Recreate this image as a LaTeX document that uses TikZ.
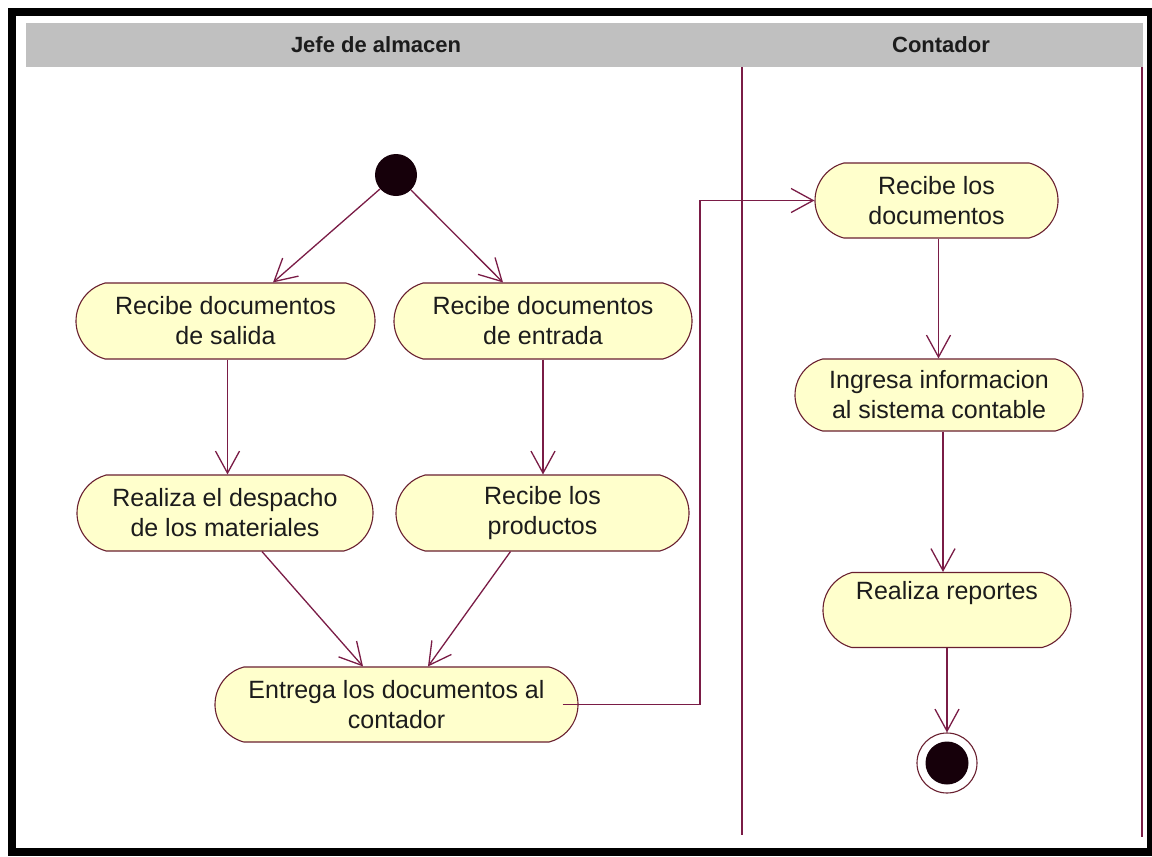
\documentclass[tikz,border=0pt]{standalone}
\usepackage{fontspec}
\setmainfont{Liberation Sans}
\usetikzlibrary{shapes.misc,arrows.meta}

\definecolor{wire}{RGB}{122,28,70}
\definecolor{actfill}{RGB}{255,255,204}
\definecolor{actedge}{RGB}{105,32,48}
\definecolor{lanehead}{RGB}{192,192,192}
\definecolor{inktext}{RGB}{28,28,28}
\definecolor{dot}{RGB}{22,0,10}

\begin{document}
\begin{tikzpicture}[x=1pt,y=-1pt,
  activity/.style={rounded rectangle, rounded rectangle arc length=150,
    draw=actedge, line width=1.1pt, fill=actfill, text=inktext,
    align=center, inner sep=0pt, font=\fontsize{25}{30}\selectfont},
  flow/.style={draw=wire, line width=1.3pt,
    -{Straight Barb[length=22pt,width=24pt]}},
  lane/.style={draw=wire, line width=1.8pt},
  lanetitle/.style={text=inktext, inner sep=0pt,
    font=\bfseries\fontsize{22}{26}\selectfont}]

\useasboundingbox (0,0) rectangle (1152,857);
\fill[white] (0,0) rectangle (1152,857);

% swimlane header and separators
\fill[lanehead] (26,23) rectangle (1143,67);
\node[lanetitle] (hjefe) at (376,45) {Jefe de almacen};
\node[lanetitle] (hcont) at (941,45) {Contador};
\draw[lane] (742,67) -- (742,835);
\draw[lane] (1142,67) -- (1142,837);

% outer frame
\draw[line width=8pt] (12,12) rectangle (1151,852);

% start / end states
\node[circle, fill=dot, minimum size=42pt, inner sep=0pt] (start) at (396,175) {};
\node[circle, draw=actedge, line width=1.1pt, minimum size=60pt, inner sep=0pt] (stop) at (947,763) {};
\node[circle, fill=dot, minimum size=43pt, inner sep=0pt] (stopdot) at (stop) {};

% activities
\node[activity, minimum width=299pt, minimum height=76pt] (a1) at (225.5,321) {Recibe documentos\\de salida};
\node[activity, minimum width=298pt, minimum height=76pt] (a2) at (543,321) {Recibe documentos\\de entrada};
\node[activity, minimum width=296pt, minimum height=76pt] (a3) at (225,513) {Realiza el despacho\\de los materiales};
\node[activity, minimum width=293pt, minimum height=76pt] (a4) at (542.5,513) {Recibe los\\productos};
\node[activity, minimum width=363pt, minimum height=75pt] (a5) at (396.5,704.5) {Entrega los documentos al\\contador};
\node[activity, minimum width=243pt, minimum height=75pt] (a6) at (936.5,200.5) {Recibe los\\documentos};
\node[activity, minimum width=288pt, minimum height=72pt] (a7) at (939,395) {Ingresa informacion\\al sistema contable};
\node[activity, minimum width=248pt, minimum height=75pt] (a8) at (947,610) {Realiza reportes\\\strut};

\coordinate (jog) at (700,0);

% transitions
\draw[flow] (start) -- ([xshift=47.5pt]a1.north);
\draw[flow] (start) -- ([xshift=-40pt]a2.north);
\draw[flow] ([xshift=2pt]a1.south) -- ([xshift=2pt]a1.south |- a3.north);
\draw[flow] (a2.south) -- (a2.south |- a4.north);
\draw[flow] ([xshift=37pt]a3.south) -- ([xshift=-33.5pt]a5.north);
\draw[flow] ([xshift=-32pt]a4.south) -- ([xshift=31.5pt]a5.north);
\draw[flow] ([xshift=-16pt]a5.east) -| (jog |- a6.west) -- (a6.west);
\draw[flow] ([xshift=2pt]a6.south) -- ([xshift=2pt]a6.south |- a7.north);
\draw[flow] ([xshift=4pt]a7.south) -- ([xshift=4pt]a7.south |- a8.north);
\draw[flow] (a8.south) -- (stop.north);

\end{tikzpicture}
\end{document}
